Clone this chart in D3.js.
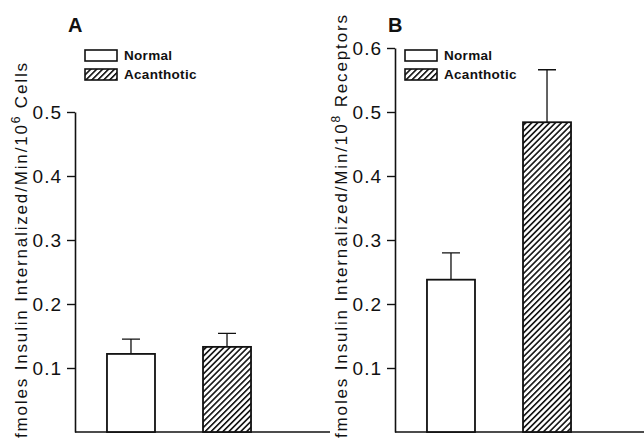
<!DOCTYPE html>
<html>
<head>
<meta charset="utf-8">
<script src="https://cdn.jsdelivr.net/npm/d3@7"></script>
<style>
  body { margin: 0; background: #fff; }
  svg { font-family: "Liberation Sans", Arial, sans-serif; }
</style>
</head>
<body>
<div id="chart"></div>
<script>
// data
const groups = ["Normal", "Acanthotic"];
const valuesA = [0.122, 0.133];
const errorsA = [0.023, 0.021];
const valuesB = [0.238, 0.484];
const errorsB = [0.042, 0.082];
const ticksA = [0.1, 0.2, 0.3, 0.4, 0.5];
const ticksB = [0.1, 0.2, 0.3, 0.4, 0.5, 0.6];

const W = 644, H = 443;
const svg = d3.select("#chart").append("svg")
    .attr("width", W)
    .attr("height", H);

// hatch for acanthotic bars
const defs = svg.append("defs");
const pat = defs.append("pattern")
    .attr("id", "hatch")
    .attr("patternUnits", "userSpaceOnUse")
    .attr("width", 4.2)
    .attr("height", 4.2)
    .attr("patternTransform", "rotate(45)");
pat.append("rect").attr("width", 4.2).attr("height", 4.2).attr("fill", "#fff");
pat.append("line")
    .attr("x1", 0).attr("y1", 0).attr("x2", 0).attr("y2", 4.2)
    .attr("stroke", "#111").attr("stroke-width", 3.2);

const y = d3.scaleLinear().domain([0, 0.6]).range([432, 48]);

function drawPanel(opt) {
    let g = svg.append("g");

    let x = d3.scaleBand()
        .domain(groups)
        .range([opt.axisX, opt.axisX + 208])
        .paddingInner(0.5)
        .paddingOuter(0.333);

    // y axis
    let yAx = y.copy().domain([0, opt.yMax]).range([y(0), y(opt.yMax)]);
    let axis = g.append("g")
        .attr("transform", "translate(" + opt.axisX + ",0)")
        .call(d3.axisLeft(yAx).tickValues(opt.ticks).tickFormat(d3.format(".1f"))
            .tickSize(8).tickSizeOuter(0).tickPadding(5));
    axis.select(".domain").attr("stroke", "#111").attr("stroke-width", 1.6);
    axis.selectAll(".tick line").attr("stroke", "#111").attr("stroke-width", 1.4);
    axis.selectAll(".tick text")
        .attr("fill", "#111")
        .style("font-size", "19px")
        .style("letter-spacing", "1px");

    // baseline
    g.append("line")
        .attr("x1", opt.axisX).attr("x2", opt.axisEnd)
        .attr("y1", y(0)).attr("y2", y(0))
        .attr("stroke", "#111").attr("stroke-width", 1.6);

    // error bars
    g.selectAll(".err")
        .data(groups)
        .enter().append("path")
        .attr("class", "err")
        .attr("fill", "none")
        .attr("stroke", "#111")
        .attr("stroke-width", 1.3)
        .attr("d", function(d, i) {
            let cx = x(d) + x.bandwidth() / 2;
            let top = y(opt.values[i] + opt.errors[i]);
            return "M" + cx + "," + y(opt.values[i]) + "V" + top + "M" + (cx - 9) + "," + top + "H" + (cx + 9);
        });

    // bars
    g.selectAll(".bar")
        .data(groups)
        .enter().append("rect")
        .attr("class", "bar")
        .attr("x", d => x(d))
        .attr("width", x.bandwidth())
        .attr("y", (d, i) => y(opt.values[i]))
        .attr("height", (d, i) => y(0) - y(opt.values[i]))
        .attr("fill", (d, i) => i == 0 ? "#fff" : "url(#hatch)")
        .attr("stroke", "#111")
        .attr("stroke-width", 1.8);

    // panel letter
    g.append("text")
        .attr("x", opt.axisX - 7)
        .attr("y", 32)
        .attr("fill", "#111")
        .style("font-size", "20px")
        .style("font-weight", "bold")
        .text(opt.letter);

    // legend
    let leg = g.append("g").attr("transform", "translate(" + (opt.axisX + 10) + ",50)");
    groups.forEach(function(d, i) {
        leg.append("rect")
            .attr("x", 0).attr("y", i * 19)
            .attr("width", 32).attr("height", 11)
            .attr("fill", i == 0 ? "#fff" : "url(#hatch)")
            .attr("stroke", "#111").attr("stroke-width", 1.6);
        leg.append("text")
            .attr("x", 39).attr("y", i * 19 + 10)
            .attr("fill", "#111")
            .style("font-size", "13.5px")
            .style("font-weight", "bold")
            .style("letter-spacing", "0.3px")
            .text(d);
    });

    // rotated y label
    let lab = g.append("text")
        .attr("transform", "translate(" + opt.labelX + ",438) rotate(-90)")
        .attr("fill", "#111")
        .style("font-size", "17px")
        .attr("textLength", opt.labelLen)
        .attr("lengthAdjust", "spacing");
    lab.append("tspan").text("fmoles Insulin Internalized/Min/10");
    lab.append("tspan").attr("dy", -7).style("font-size", "12px").text(opt.exp);
    lab.append("tspan").attr("dy", 7).text(" " + opt.unit);
}

drawPanel({letter: "A", axisX: 75, axisEnd: 330, yMax: 0.5, ticks: ticksA,
    values: valuesA, errors: errorsA, labelX: 27, labelLen: 375, exp: "6", unit: "Cells"});
drawPanel({letter: "B", axisX: 395, axisEnd: 644, yMax: 0.6, ticks: ticksB,
    values: valuesB, errors: errorsB, labelX: 347, labelLen: 423, exp: "8", unit: "Receptors"});
</script>
</body>
</html>
